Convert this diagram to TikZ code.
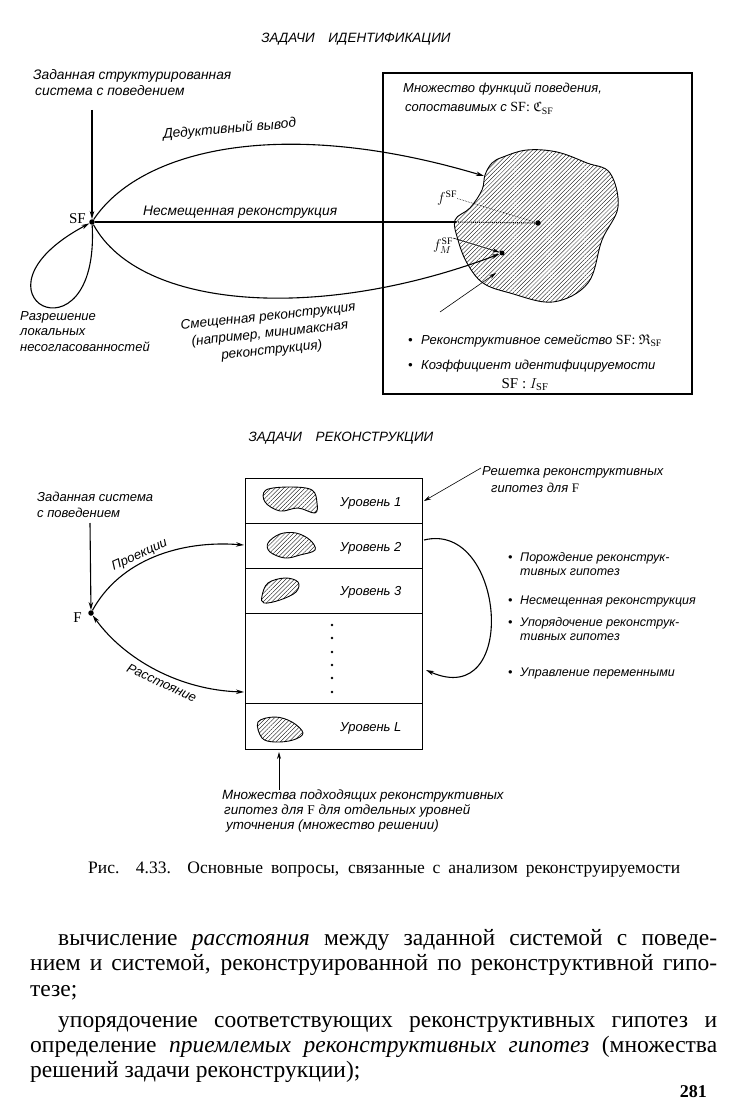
\documentclass[tikz,border=0pt]{standalone}
\usepackage{amssymb}
\usepackage{fontspec}
\setmainfont{Liberation Serif}
\newfontfamily\lab{Liberation Sans}
\usetikzlibrary{arrows.meta,patterns.meta}
\begin{document}
\begin{tikzpicture}[x=1pt,y=-1pt,
  lbl/.style={font=\lab\itshape\fontsize{13}{16.5}\selectfont, inner sep=0pt, align=left, anchor=base west},
  big/.style={lbl, font=\lab\itshape\fontsize{13.8}{16.5}\selectfont},
  rbl/.style={lbl, font=\lab\itshape\fontsize{12.5}{14}\selectfont},
  ttl/.style={font=\lab\itshape\fontsize{13.5}{16}\selectfont, inner sep=0pt, anchor=base},
  sym/.style={font=\fontsize{15}{17}\selectfont, inner sep=0pt},
  conn/.style={line width=1.1pt},
  tip/.style={-{Stealth[length=8pt,width=4.5pt]}},
  twotip/.style={{Stealth[length=8pt,width=4.5pt]}-{Stealth[length=8pt,width=4.5pt]}},
  thinline/.style={line width=0.6pt},
  dot/.style={circle,fill,inner sep=0pt,minimum size=5.5pt},
  hatch/.style={draw,line width=0.9pt,pattern={Lines[angle=45,distance=3pt,line width=0.35pt]}},
  row/.style={draw,line width=1pt,minimum width=177pt,inner sep=0pt},
  body/.style={font=\fontsize{23.5}{26}\selectfont, inner sep=0pt, anchor=base west},
]
\useasboundingbox (0,0) rectangle (738,1107);

% ---------- top part ----------
\node[ttl] (t1) at (356,43) {ЗАДАЧИ\quad ИДЕНТИФИКАЦИИ};
\node[big] (given1) at (33,96) {Заданная структурированная\\\hspace*{2pt}система с поведением};
\coordinate (sftop) at (92,110);
\node[dot] (sf) at (92,222) {};
\node[sym, anchor=base east] (sflab) at (86,224) {SF};
\draw[conn,tip] (sftop) -- (sf);

\node[draw, line width=1.3pt, minimum width=309pt, minimum height=321pt, inner sep=0pt] (cbox) at (537.5,233.5) {};
\node[lbl] (ctext) at (403,112) {Множество функций поведения,\\[3pt]\hspace*{2pt}сопоставимых с {\rmfamily\upshape\fontsize{14}{16}\selectfont SF: $\mathfrak{C}_{\mathrm{SF}}$}};

\draw[hatch] plot[smooth cycle, tension=0.6] coordinates {
  (527,150) (557,152) (587,163) (610,173) (618,207) (602,240) (588,283)
  (553,302) (510,293) (483,283) (467,263) (458,240) (455,220) (470,208)
  (482,190) (485,175) (492,163) (503,157)};

\node[dot] (fsf) at (538,223) {};
\node[dot, minimum size=5pt] (fm) at (502,253) {};
\coordinate (dedend) at (484,176);
\coordinate (blobedge) at (456,222);

\draw[conn,tip] (sf) .. controls (140,150) and (280,115) .. (dedend);
\node[big, anchor=base, rotate=5] (ded) at (230,133) {Дедуктивный вывод};
\draw[conn] (sf) -- (blobedge);
\draw[conn, densely dotted] (blobedge) -- (fsf);
\node[big] (unb) at (143,215) {Несмещенная реконструкция};
\draw[conn,tip] (sf) .. controls (140,310) and (320,322) .. (fm);
\node[big, anchor=center, align=center, rotate=6, font=\lab\itshape\fontsize{13.5}{17}\selectfont] (bias) at (270,334) {Смещенная реконструкция\\(например, минимаксная\\реконструкция)};
\draw[conn,tip] (sf) .. controls (100,370) and (-45,295) .. (sf);
\node[lbl, font=\lab\itshape\fontsize{13}{15.5}\selectfont] (loc) at (20,351) {Разрешение\\локальных\\несогласованностей};

\node[font=\fontsize{14}{16}\selectfont, inner sep=0pt, anchor=base west] (fsflab) at (437,203) {$f^{\mathrm{SF}}$};
\draw[thinline, densely dotted] (fsflab.east) -- (fsf);
\node[font=\fontsize{14}{16}\selectfont, inner sep=0pt, anchor=base west] (fmlab) at (433,250) {$f_M^{\mathrm{SF}}$};
\draw[thinline,-{Stealth[length=7pt,width=4pt]}] (fmlab.north east) -- (fm);
\coordinate (famtail) at (440,312);
\coordinate (famhead) at (496,273);
\draw[thinline,-{Stealth[length=7pt,width=4pt]}] (famtail) -- (famhead);

\node[lbl] (b1) at (408,344) {\makebox[13pt][l]{\textbullet}Реконструктивное семейство {\rmfamily\upshape\fontsize{14}{16}\selectfont SF: $\mathfrak{R}_{\mathrm{SF}}$}};
\node[lbl] (b2) at (408,369) {\makebox[13pt][l]{\textbullet}Коэффициент идентифицируемости};
\node[sym, anchor=base] (b2b) at (525,388) {SF : $I_{\mathrm{SF}}$};

% ---------- bottom part ----------
\node[ttl] (t2) at (341,441) {ЗАДАЧИ\quad РЕКОНСТРУКЦИИ};

\node[row, minimum height=45pt] (r1) at (333.5,500.5) {};
\node[row, minimum height=45pt] (r2) at (333.5,545.5) {};
\node[row, minimum height=45pt] (r3) at (333.5,590.5) {};
\node[row, minimum height=90pt] (rd) at (333.5,658) {};
\node[row, minimum height=46pt] (rL) at (333.5,726) {};

\draw[hatch] plot[smooth cycle, tension=0.6] coordinates {(266,490) (290,487) (312,490) (317,503) (315,513) (298,508) (280,511) (265,502)};
\draw[hatch] plot[smooth cycle, tension=0.6] coordinates {(268,543) (280,534) (296,533) (310,540) (315,550) (300,555) (285,558) (270,552)};
\draw[hatch] plot[smooth cycle, tension=0.6] coordinates {(262,596) (268,583) (285,578) (298,582) (296,592) (280,600) (264,603)};
\draw[hatch] plot[smooth cycle, tension=0.6] coordinates {(258,722) (275,717) (292,722) (303,733) (293,740) (275,742) (262,738)};

\node[lbl] (l1) at (340,506) {Уровень 1};
\node[lbl] (l2) at (340,551) {Уровень 2};
\node[lbl] (l3) at (340,595) {Уровень 3};
\node[lbl] (lL) at (340,731) {Уровень L};
\foreach \yy in {625,638,652,665,678,692} \fill (332,\yy) circle (1.4);

\node[lbl] (lat) at (482,492) {Решетка реконструктивных\\\hspace*{9pt}гипотез для {\rmfamily\upshape F}};
\coordinate (lattail) at (481,468);
\coordinate (lathead) at (424,501);
\draw[thinline,-{Stealth[length=7pt,width=4pt]}] (lattail) -- (lathead);

\coordinate (loopA) at (424,540);
\coordinate (loopB) at (426,670);
\draw[conn,tip] (loopA) .. controls (505,520) and (520,712) .. (loopB);

\node[rbl] (rb1) at (508,575) {\makebox[12pt][l]{\textbullet}Порождение реконструк-\\\hspace*{12pt}тивных гипотез};
\node[rbl] (rb2) at (508,604) {\makebox[12pt][l]{\textbullet}Несмещенная реконструкция};
\node[rbl] (rb3) at (508,640) {\makebox[12pt][l]{\textbullet}Упорядочение реконструк-\\\hspace*{12pt}тивных гипотез};
\node[rbl] (rb4) at (508,676) {\makebox[12pt][l]{\textbullet}Управление переменными};

\node[lbl, font=\lab\itshape\fontsize{13}{16}\selectfont] (given2) at (37,517) {Заданная система\\с поведением};
\coordinate (ftop) at (90,523);
\node[dot] (f) at (91,613) {};
\node[sym, anchor=base east] (flab) at (82,622) {F};
\draw[conn,tip] (ftop) -- (f);

\coordinate (projIn) at (244,545);
\coordinate (distIn) at (244,692);
\draw[conn,tip] (f) .. controls (120,560) and (180,540) .. (projIn);
\node[lbl, anchor=base, rotate=24] (proj) at (141,558) {Проекции};
\draw[conn,twotip] (f) .. controls (125,660) and (180,690) .. (distIn);
\node[lbl, anchor=base, rotate=-25] (dist) at (160,687) {Расстояние};

\coordinate (setstail) at (279,790);
\coordinate (setshead) at (279,752);
\draw[line width=0.8pt,-{Stealth[length=7pt,width=4pt]}] (setstail) -- (setshead);
\node[lbl, font=\lab\itshape\fontsize{13.4}{15}\selectfont] (sets) at (222,829) {Множества подходящих реконструктивных\\\hspace*{2pt}гипотез для {\rmfamily\upshape F} для отдельных уровней\\\hspace*{4pt}уточнения (множество решении)};

% ---------- caption and text ----------
\node[font=\fontsize{17.5}{19}\selectfont, inner sep=0pt, anchor=base west] (cap) at (88,873) {\makebox[592pt][s]{Рис. 4.33. Основные вопросы, связанные с анализом реконструируемости}};

\node[body] (p1) at (58,945) {\makebox[659pt][s]{вычисление \textit{расстояния} между заданной системой с поведе-}};
\node[body] (p2) at (30,970) {\makebox[687pt][s]{нием и системой, реконструированной по реконструктивной гипо-}};
\node[body] (p3) at (30,996) {тезе;};
\node[body] (p4) at (58,1027) {\makebox[659pt][s]{упорядочение соответствующих реконструктивных гипотез и}};
\node[body] (p5) at (30,1052) {\makebox[687pt][s]{определение \textit{приемлемых реконструктивных гипотез} (множества}};
\node[body] (p6) at (30,1077) {решений задачи реконструкции);};
\node[font=\bfseries\fontsize{18}{20}\selectfont, inner sep=0pt, anchor=base east] (pg) at (707,1097) {281};
\end{tikzpicture}
\end{document}
